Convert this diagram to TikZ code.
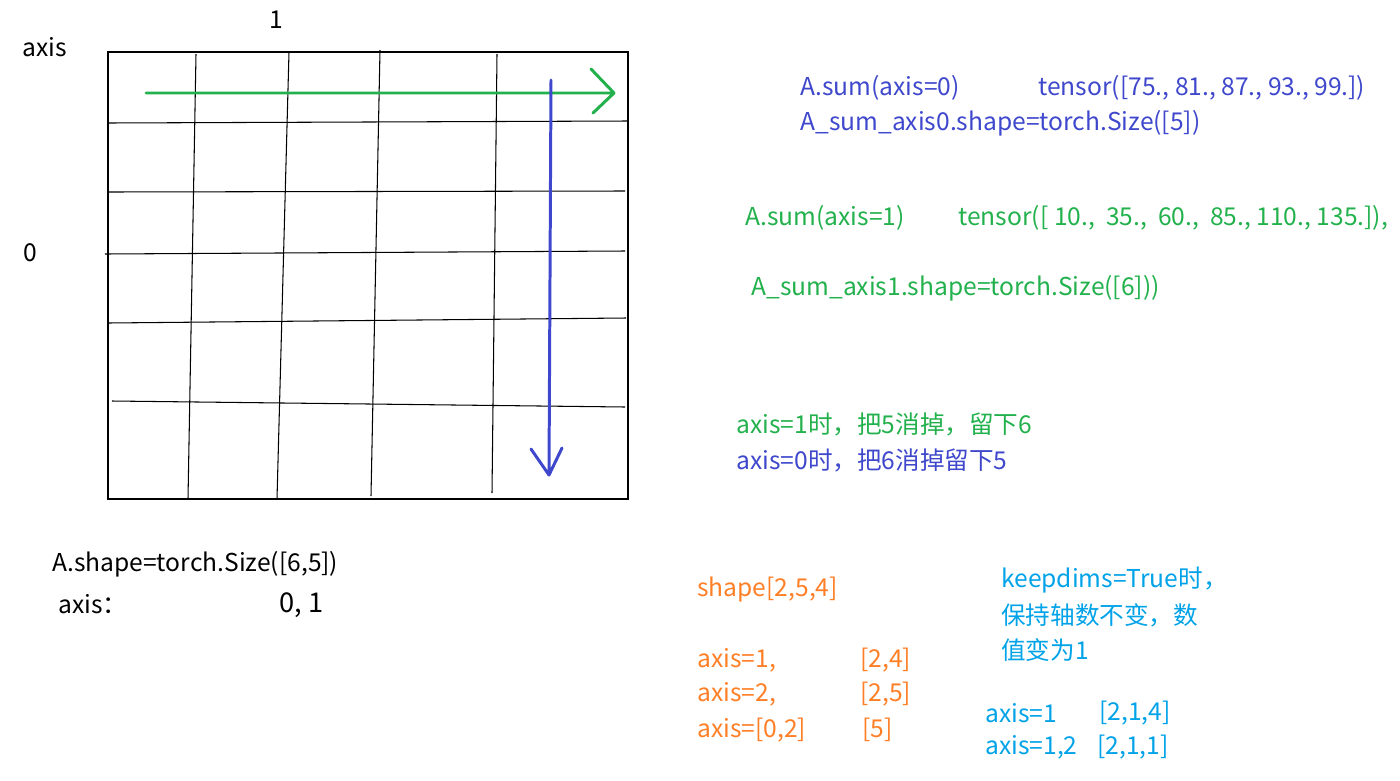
\documentclass[tikz,border=0pt]{standalone}
\usepackage{fontspec}
\setmainfont{Noto Sans CJK SC}
\definecolor{pgreen}{RGB}{34,177,76}
\definecolor{pblue}{RGB}{63,72,204}
\definecolor{porange}{RGB}{255,127,39}
\definecolor{pcyan}{RGB}{0,162,232}
\tikzset{lbl/.style={inner sep=0pt,anchor=west,yshift=-1.2pt,font=\fontsize{14}{16}\selectfont},
  grid/.style={line width=0.6pt},
  pen/.style={line width=1.7pt,line cap=round,line join=round}}
\begin{document}
\begin{tikzpicture}[x=0.2mm,y=-0.2mm]
\useasboundingbox(0,0)rectangle(1400,780);
% the 6x5 table
\draw[grid](108,52)rectangle(628,499);
\draw[grid](196,54)--(188,499)(289,52)--(277,499)(380,50)--(371,496)(497,54)--(492,493);
\draw[grid](108,123)--(628,121)(107,192)--(625,191)(105,254)--(625,251)
(108,323)--(626,318)(112,401)--(625,407);
% axis arrows
\draw[pen,pgreen](146,93)--(614,93)(591,69)--(614,93)--(593,113);
\draw[pen,pblue](551,80)--(549,475)(531,449)--(549,475)--(562,448);
\node[lbl]    (one)   at(269,18){1};
\node[lbl]    (axis)  at(22,45){axis};
\node[lbl]    (zero)  at(23,251){0};
\node[lbl]    (shape) at(52,562){A.shape=torch.Size([6,5])};
\node[lbl]    (axes)  at(58,602){axis：};
\node[lbl,font=\fontsize{15.5}{18}\selectfont](nums)at(279,603){0, 1};
% sums
\begin{scope}[pblue]
\node[lbl](sum0)  at(800,86){A.sum(axis=0)};
\node[lbl](ten0)  at(1038,86){tensor([75., 81., 87., 93., 99.])};
\node[lbl](shp0)  at(800,121){A\_sum\_axis0.shape=torch.Size([5])};
\node[lbl](rule0) at(736,458){axis=0时，把6消掉留下5};
\end{scope}
\begin{scope}[pgreen]
\node[lbl](sum1)  at(745,216){A.sum(axis=1)};
\node[lbl](ten1)  at(958,216){tensor([ 10.,\ \ 35.,\ \ 60.,\ \ 85., 110., 135.]),};
\node[lbl](shp1)  at(751,286){A\_sum\_axis1.shape=torch.Size([6]))};
\node[lbl](rule1) at(736,422){axis=1时，把5消掉，留下6};
\end{scope}
% three axes
\begin{scope}[porange]
\node[lbl](shp3) at(697,587){shape[2,5,4]};
\foreach \a/\r/\y/\x in{{1,}/{[2,4]}/658/860,{2,}/{[2,5]}/692/860,{[0,2]}/{[5]}/728/862}{
\node[lbl]at(697,\y){axis=\a};
\node[lbl]at(\x,\y){\r};}
\end{scope}
\begin{scope}[pcyan]
\node[lbl](keep1)at(1001,578){keepdims=True时，};
\node[lbl](keep2)at(1001,613){保持轴数不变，数};
\node[lbl](keep3)at(1001,648){值变为1};
\node[lbl](kd1)  at(985,711){axis=1};
\node[lbl](kr1)  at(1099,711){[2,1,4]};
\node[lbl](kd2)  at(985,745){axis=1,2};
\node[lbl](kr2)  at(1097,745){[2,1,1]};
\end{scope}
\end{tikzpicture}
\end{document}
